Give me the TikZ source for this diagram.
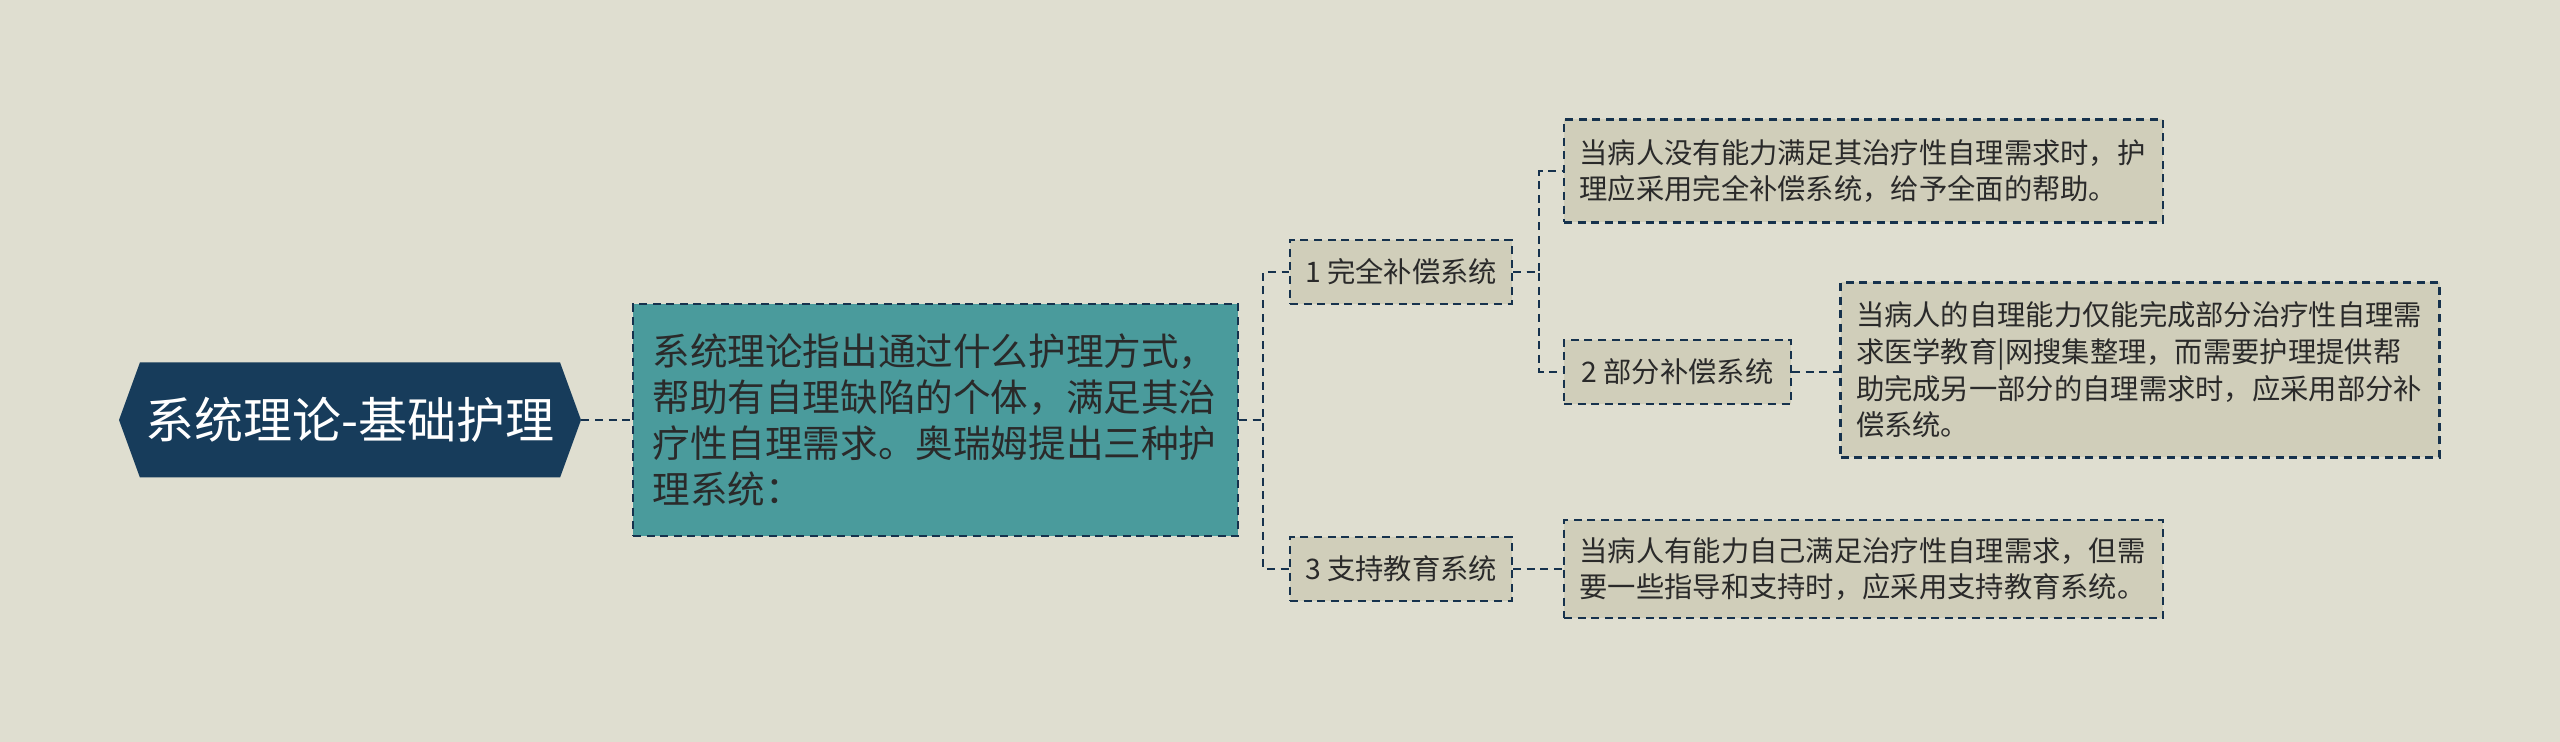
\documentclass[tikz,border=0pt]{standalone}
\usepackage{fontspec}
\setmainfont{Noto Sans CJK SC}
\usepackage{tikz}
\usetikzlibrary{positioning, calc, shapes.symbols}
\usepackage{xcolor}
\definecolor{paper}{HTML}{DFDED0}
\definecolor{hubnavy}{HTML}{173C5B}
\definecolor{topicteal}{HTML}{4A9B9C}
\definecolor{notefill}{HTML}{D0CEBA}
\definecolor{edgenavy}{HTML}{16324D}
\definecolor{inkgray}{HTML}{2A2A2A}
\tikzset{
  hubbox/.style={signal, signal to=west and east, signal pointer angle=140,
                 fill=hubnavy, draw=none, text=white, inner sep=0pt,
                 minimum width=231pt, minimum height=57.5pt,
                 font=\fontsize{24.5pt}{28pt}\selectfont},
  topicbox/.style={rectangle, draw=edgenavy, fill=topicteal, line width=1.1pt,
                   dash pattern=on 4pt off 2.8pt, text=inkgray,
                   minimum width=302.5pt, minimum height=116pt,
                   text width=283pt, align=left,
                   font=\fontsize{18.8pt}{23pt}\selectfont},
  sysbox/.style={rectangle, draw=edgenavy, fill=notefill, line width=1.1pt,
                 dash pattern=on 4pt off 2.8pt, text=inkgray,
                 minimum width=#1, minimum height=32pt, inner sep=0pt,
                 font=\fontsize{14.15pt}{18.35pt}\selectfont},
  sysbox/.default=111pt,
  notebox/.style={rectangle, draw=edgenavy, fill=notefill, line width=1.1pt,
                  dash pattern=on 4pt off 2.8pt, text=inkgray,
                  minimum width=299.5pt, minimum height=#1,
                  text width=284pt, align=left,
                  font=\fontsize{14.15pt}{18.35pt}\selectfont},
  notebox/.default=50pt,
  link/.style={draw=edgenavy, line width=1.1pt, dash pattern=on 4pt off 2.8pt},
}
\begin{document}
\begin{tikzpicture}[x=0.5pt, y=-0.5pt]
  \fill[paper] (0,0) rectangle (2560,742);
  \useasboundingbox (0,0) rectangle (2560,742);

  % Root
  \node[hubbox] (hub) at (350,420) {系统理论-基础护理};

  % Topic
  \node[topicbox] (topic) at (935.5,420)
    {系统理论指出通过什么护理方式，\\帮助有自理缺陷的个体，满足其治\\疗性自理需求。奥瑞姆提出三种护\\理系统：};

  % Systems
  \node[sysbox] (full) at (1401,272) {1 完全补偿系统};
  \node[sysbox=113.5pt] (part) at (1677.5,372) {2 部分补偿系统};
  \node[sysbox] (edu) at (1401,569) {3 支持教育系统};

  % Notes
  \node[notebox=51.5pt] (fullnote) at (1863.5,171)
    {当病人没有能力满足其治疗性自理需求时，护\\理应采用完全补偿系统，给予全面的帮助。};
  \node[notebox=87.5pt] (partnote) at (2140,370)
    {当病人的自理能力仅能完成部分治疗性自理需\\求医学教育|网搜集整理，而需要护理提供帮\\助完成另一部分的自理需求时，应采用部分补\\偿系统。};
  \node[notebox=49pt] (edunote) at (1863.5,569)
    {当病人有能力自己满足治疗性自理需求，但需\\要一些指导和支持时，应采用支持教育系统。};

  % Links
  \draw[link] (hub.east) -- (topic.west);
  \draw[link] (topic.east) -- ++(12pt,0) |- (full.west);
  \draw[link] (topic.east) -- ++(12pt,0) |- (edu.west);
  \draw[link] (full.east) -- ++(13pt,0) |- (fullnote.west);
  \draw[link] (full.east) -- ++(13pt,0) |- (part.west);
  \draw[link] (part.east) -- (part.east -| partnote.west);
  \draw[link] (edu.east) -- (edu.east -| edunote.west);
\end{tikzpicture}
\end{document}
